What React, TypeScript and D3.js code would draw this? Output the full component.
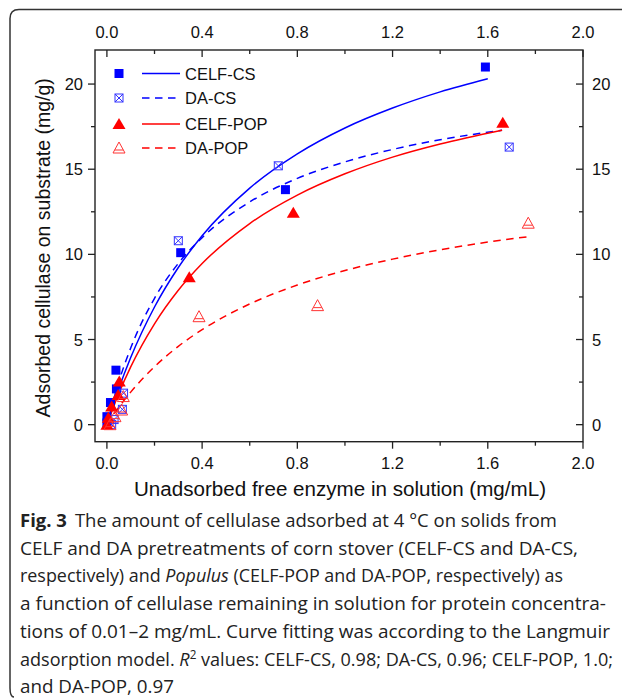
import React from "react";
import * as d3 from "d3";

// measured points (x: free enzyme mg/mL, y: adsorbed mg/g)
const celfCsX = [0.0, 0.0, 0.015, 0.04, 0.038, 0.31, 0.75, 1.59];
const celfCsY = [0.1, 0.47, 1.3, 2.1, 3.2, 10.1, 13.8, 21.0];
const daCsX = [0.02, 0.03, 0.065, 0.07, 0.3, 0.72, 1.69];
const daCsY = [0.0, 0.3, 0.9, 1.85, 10.8, 15.2, 16.3];
const celfPopX = [0.0, 0.006, 0.02, 0.047, 0.052, 0.346, 0.783, 1.663];
const celfPopY = [0.0, 0.4, 1.06, 1.74, 2.53, 8.66, 12.45, 17.73];
const daPopX = [0.013, 0.034, 0.062, 0.069, 0.387, 0.885, 1.77];
const daPopY = [0.0, 0.47, 0.86, 1.65, 6.34, 6.99, 11.83];

// Langmuir fit curves
const celfCsFitX = [0, 0.05, 0.1, 0.2, 0.3, 0.4, 0.6, 0.8, 1.0, 1.2, 1.4, 1.6];
const celfCsFitY = [0, 2.12, 3.94, 6.91, 9.23, 11.09, 13.89, 15.9, 17.42, 18.59, 19.54, 20.31];
const daCsFitX = [0, 0.05, 0.1, 0.2, 0.3, 0.4, 0.6, 0.8, 1.0, 1.2, 1.4, 1.66];
const daCsFitY = [0, 2.52, 4.5, 7.42, 9.47, 10.98, 13.08, 14.46, 15.43, 16.16, 16.73, 17.29];
const celfPopFitX = [0, 0.05, 0.1, 0.2, 0.3, 0.4, 0.6, 0.8, 1.0, 1.2, 1.4, 1.66];
const celfPopFitY = [0, 1.83, 3.39, 5.92, 7.89, 9.46, 11.81, 13.48, 14.73, 15.71, 16.48, 17.29];
const daPopFitX = [0, 0.05, 0.1, 0.2, 0.3, 0.4, 0.6, 0.8, 1.0, 1.2, 1.4, 1.6, 1.77];
const daPopFitY = [0, 1.02, 1.91, 3.4, 4.6, 5.58, 7.09, 8.2, 9.05, 9.72, 10.27, 10.72, 11.04];

const seriesNames = ["CELF-CS", "DA-CS", "CELF-POP", "DA-POP"];
const xMajor = [0, 0.4, 0.8, 1.2, 1.6, 2.0];
const xMinor = [0.2, 0.6, 1.0, 1.4, 1.8];
const yMajor = [0, 5, 10, 15, 20];
const yMinor = [2.5, 7.5, 12.5, 17.5];

const captionLines = [
  "The amount of cellulase adsorbed at 4 °C on solids from",
  "CELF and DA pretreatments of corn stover (CELF-CS and DA-CS,",
  "respectively) and Populus (CELF-POP and DA-POP, respectively) as",
  "a function of cellulase remaining in solution for protein concentra-",
  "tions of 0.01–2 mg/mL. Curve fitting was according to the Langmuir",
  "adsorption model. R2 values: CELF-CS, 0.98; DA-CS, 0.96; CELF-POP, 1.0;",
  "and DA-POP, 0.97",
];
const captionEnds = [557, 578, 563, 606, 610, 613, 174];

const BLUE = "#0000ff";
const RED = "#ff0000";
const tickFont = "'Liberation Sans', Arial, sans-serif";

function Marker({ kind, x, y }: { kind: string; x: number; y: number }) {
  if (kind === "square")
    return <rect x={x - 4.5} y={y - 4.5} width={9} height={9} fill={BLUE} />;
  if (kind === "squareX")
    return (
      <g stroke="#3333ff" strokeWidth={1} fill="none">
        <rect x={x - 4} y={y - 4} width={8} height={8} />
        <path d={`M${x - 4},${y - 4}L${x + 4},${y + 4}M${x + 4},${y - 4}L${x - 4},${y + 4}`} />
      </g>
    );
  if (kind === "triangle")
    return <path d={`M${x},${y - 6}L${x + 6.5},${y + 5}L${x - 6.5},${y + 5}Z`} fill={RED} />;
  return (
    <g stroke="#ff3333" strokeWidth={1} fill="none">
      <path d={`M${x},${y - 6}L${x + 6},${y + 5}L${x - 6},${y + 5}Z`} />
      <path d={`M${x - 4.2},${y + 2}L${x + 4.2},${y + 2}`} />
    </g>
  );
}

export default function App() {
  const x = d3.scaleLinear().domain([-0.05, 2.0]).range([95, 583]);
  const y = d3.scaleLinear().domain([-1, 22]).range([441.7, 50]);
  const line = d3
    .line<[number, number]>()
    .x((d) => x(d[0]))
    .y((d) => y(d[1]))
    .curve(d3.curveMonotoneX);

  const zip = (a: number[], b: number[]) => a.map((v, i) => [v, b[i]] as [number, number]);

  const series = [
    { pts: zip(celfCsX, celfCsY), fit: zip(celfCsFitX, celfCsFitY), color: BLUE, dash: "", marker: "square" },
    { pts: zip(daCsX, daCsY), fit: zip(daCsFitX, daCsFitY), color: BLUE, dash: "7.5,5.5", marker: "squareX" },
    { pts: zip(celfPopX, celfPopY), fit: zip(celfPopFitX, celfPopFitY), color: RED, dash: "", marker: "triangle" },
    { pts: zip(daPopX, daPopY), fit: zip(daPopFitX, daPopFitY), color: RED, dash: "7.5,5.5", marker: "triangleOpen" },
  ];

  const [x0, x1] = x.range();
  const [yb, yt] = y.range();
  const legendY = [73.5, 98, 124, 148];

  return (
    <svg
      width={622}
      height={699}
      style={{ position: "absolute", left: 0, top: 0, background: "#fff" }}
    >
      {/* figure frame */}
      <path
        d="M622,9.5 L19,9.5 Q10,9.5 10,18.5 L10,688 Q10,697 14,697"
        fill="none"
        stroke="#333"
        strokeWidth={1.5}
      />

      {/* fitted curves */}
      {series.map((s, i) => (
        <path
          key={"f" + i}
          d={line(s.fit) || ""}
          fill="none"
          stroke={s.color}
          strokeWidth={1.5}
          strokeDasharray={s.dash}
        />
      ))}

      {/* points */}
      {series.map((s, i) => (
        <g key={"p" + i}>
          {s.pts.map((p, j) => (
            <Marker key={j} kind={s.marker} x={x(p[0])} y={y(p[1])} />
          ))}
        </g>
      ))}

      {/* axes frame */}
      <rect x={x0} y={yt} width={x1 - x0} height={yb - yt} fill="none" stroke="#222" strokeWidth={1.4} />

      <g stroke="#222" strokeWidth={1.3}>
        {xMajor.map((v) => (
          <g key={"xm" + v}>
            <line x1={x(v)} x2={x(v)} y1={yb} y2={yb + 7} />
            <line x1={x(v)} x2={x(v)} y1={yt} y2={yt + 7} />
          </g>
        ))}
        {xMinor.map((v) => (
          <g key={"xn" + v}>
            <line x1={x(v)} x2={x(v)} y1={yb} y2={yb + 4} />
            <line x1={x(v)} x2={x(v)} y1={yt} y2={yt + 4} />
          </g>
        ))}
        {yMajor.map((v) => (
          <g key={"ym" + v}>
            <line x1={x0 - 7} x2={x0} y1={y(v)} y2={y(v)} />
            <line x1={x1 - 7} x2={x1} y1={y(v)} y2={y(v)} />
          </g>
        ))}
        {yMinor.map((v) => (
          <g key={"yn" + v}>
            <line x1={x0 - 4} x2={x0} y1={y(v)} y2={y(v)} />
            <line x1={x1 - 4} x2={x1} y1={y(v)} y2={y(v)} />
          </g>
        ))}
      </g>

      <g fontFamily={tickFont} fontSize={16.5} fill="#111">
        {xMajor.map((v) => (
          <g key={"xl" + v}>
            <text x={x(v)} y={468.5} textAnchor="middle">{d3.format(".1f")(v)}</text>
            <text x={x(v)} y={38} textAnchor="middle">{d3.format(".1f")(v)}</text>
          </g>
        ))}
        {yMajor.map((v) => (
          <g key={"yl" + v}>
            <text x={83} y={y(v) + 6} textAnchor="end">{v}</text>
            <text x={592} y={y(v) + 6}>{v}</text>
          </g>
        ))}
      </g>

      {/* axis titles */}
      <text
        x={134}
        y={496}
        textLength={412}
        lengthAdjust="spacingAndGlyphs"
        fontFamily={tickFont}
        fontSize={20}
        fill="#111"
      >
        Unadsorbed free enzyme in solution (mg/mL)
      </text>
      <text
        transform={`translate(50,${(yb + yt) / 2 + 2}) rotate(-90)`}
        textAnchor="middle"
        fontFamily={tickFont}
        fontSize={19.5}
        fill="#111"
      >
        Adsorbed cellulase on substrate (mg/g)
      </text>

      {/* legend */}
      {series.map((s, i) => (
        <g key={"l" + i}>
          <Marker kind={s.marker} x={119} y={legendY[i]} />
          <line x1={142} x2={180} y1={legendY[i]} y2={legendY[i]} stroke={s.color} strokeWidth={1.5} strokeDasharray={s.dash} />
          <text x={185} y={legendY[i] + 6} fontFamily={tickFont} fontSize={16.5} fill="#111">
            {seriesNames[i]}
          </text>
        </g>
      ))}

      {/* caption */}
      <g fontFamily="'Open Sans', 'Noto Sans', sans-serif" fontSize={18.5} fill="#222">
        {captionLines.map((t, i) => {
          const yy = 527 + i * 27.7;
          const len = captionEnds[i] - 20;
          if (i === 0)
            return (
              <text key={i} x={20} y={yy} textLength={len} lengthAdjust="spacingAndGlyphs">
                <tspan fontWeight="bold">Fig. 3</tspan>
                <tspan dx={8}>{t}</tspan>
              </text>
            );
          if (i === 2) {
            const [a, b] = t.split("Populus");
            return (
              <text key={i} x={20} y={yy} textLength={len} lengthAdjust="spacingAndGlyphs">
                {a}
                <tspan fontStyle="italic">Populus</tspan>
                {b}
              </text>
            );
          }
          if (i === 5) {
            const [a, b] = t.split("R2");
            return (
              <text key={i} x={20} y={yy} textLength={len} lengthAdjust="spacingAndGlyphs">
                {a}
                <tspan fontStyle="italic">R</tspan>
                <tspan fontSize={12} dy={-7}>2</tspan>
                <tspan dy={7}>{b}</tspan>
              </text>
            );
          }
          return (
            <text key={i} x={20} y={yy} textLength={len} lengthAdjust="spacingAndGlyphs">
              {t}
            </text>
          );
        })}
      </g>
    </svg>
  );
}
